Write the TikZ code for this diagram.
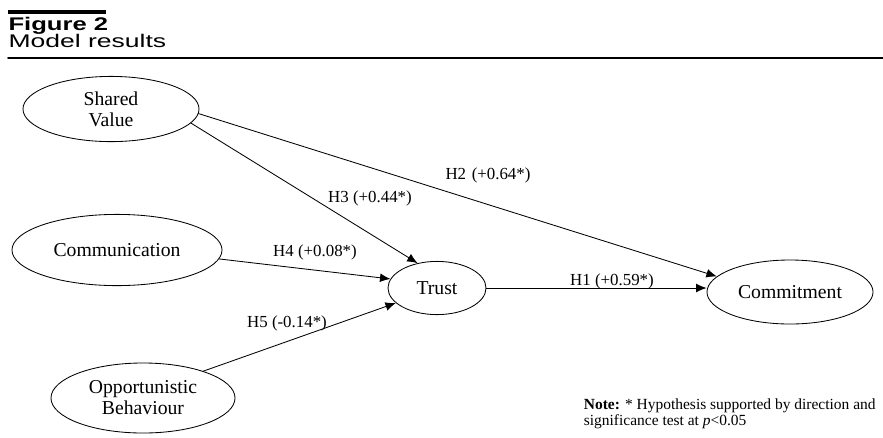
\documentclass[tikz,border=0pt]{standalone}
\usepackage{fontspec}
\setmainfont{Liberation Serif}
\newfontfamily\headfont{Liberation Sans}
\usetikzlibrary{arrows.meta,shapes.geometric}

\begin{document}
\begin{tikzpicture}[x=0.025cm,y=-0.025cm,line join=round,line cap=round,line width=0.6pt]
\tikzset{var/.style={draw,ellipse,inner sep=0pt,align=center,font=\fontsize{14}{15}\selectfont},
  path/.style={-{Latex[length=2.6mm,width=2.2mm]}},
  hyp/.style={inner sep=0pt,font=\fontsize{12}{13}\selectfont}}
\useasboundingbox (0,0) rectangle (883,437);
% heading
\fill (8,10) rectangle (106,13.5);
\node[anchor=north west,inner sep=0pt,xscale=1.4,font=\headfont\bfseries\fontsize{13}{14}\selectfont] (fig) at (8,17) {Figure 2};
\node[anchor=north west,inner sep=0pt,xscale=1.45,font=\headfont\fontsize{13}{14}\selectfont] (title) at (8,34) {Model results};
\draw[line width=1.1pt] (8,58) -- (883,58);
% constructs
\node[var,minimum width=4.4cm,minimum height=1.63cm] (sv) at (111,109) {Shared\\Value};
\node[var,minimum width=5.25cm,minimum height=1.78cm] (co) at (117,250) {Communication};
\node[var,minimum width=4.6cm,minimum height=1.75cm] (ob) at (143,398) {Opportunistic\\Behaviour};
\node[var,minimum width=2.45cm,minimum height=1.33cm] (tr) at (437,288) {Trust};
\node[var,minimum width=4.15cm,minimum height=1.6cm] (cm) at (790,292) {Commitment};
% paths
\draw[path] (sv.-3) -- (cm.168);
\draw[path] (sv.-10) -- (tr.128);
\draw[path] (co.-5) -- (tr.169);
\draw[path] (ob.24) -- (tr.200);
\draw[path] (tr.east) -- (tr.east -| cm.west);
\foreach \n/\x/\y/\t in {h1/612/281/{H1 (+0.59*)},h2/488/175/{H2\,\,(+0.64*)},h3/370/198/{H3 (+0.44*)},h4/315/252/{H4 (+0.08*)},h5/287/323/{H5 (-0.14*)}}
  \node[hyp] (\n) at (\x,\y) {\t};
\node[anchor=south east,inner sep=0pt,align=left,font=\fontsize{11}{9}\selectfont] (note) at (876,429)
  {\textbf{Note:} * Hypothesis supported by direction and\\significance test at \textit{p}<0.05};
\end{tikzpicture}
\end{document}
